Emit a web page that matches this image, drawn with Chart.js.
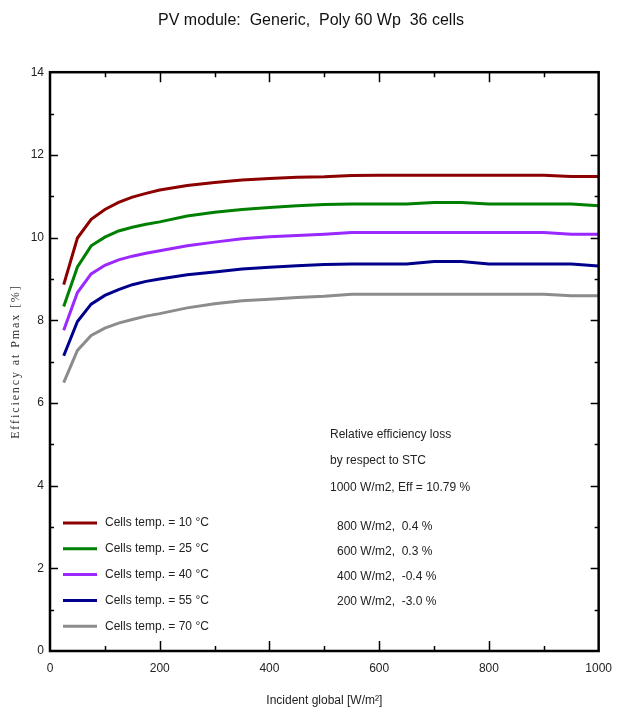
<!DOCTYPE html>
<html>
<head>
<meta charset="utf-8">
<script src="https://cdn.jsdelivr.net/npm/chart.js@4/dist/chart.umd.min.js"></script>
<style>
  html, body { margin: 0; padding: 0; background: #fff; }
  #wrap { width: 622px; height: 708px; }
</style>
</head>
<body>
<div id="wrap"><canvas id="myChart" width="622" height="708"></canvas></div>
<script>
// irradiance (W/m2) and efficiency at Pmax (%) per cell temperature
const irradiance = [25, 50, 75, 100, 125, 150, 175, 200, 250, 300, 350, 400, 450, 500,
    550, 600, 650, 700, 750, 800, 850, 900, 950, 1000];
const eff10 = [8.86, 9.99, 10.44, 10.68, 10.85, 10.98, 11.07, 11.15, 11.26, 11.33, 11.39, 11.43, 11.46, 11.47,
    11.50, 11.51, 11.51, 11.51, 11.51, 11.51, 11.51, 11.51, 11.48, 11.48];
const eff25 = [8.33, 9.29, 9.80, 10.01, 10.16, 10.25, 10.32, 10.38, 10.52, 10.61, 10.68, 10.73, 10.77, 10.80,
    10.81, 10.81, 10.81, 10.85, 10.85, 10.81, 10.81, 10.81, 10.81, 10.77];
const eff40 = [7.76, 8.67, 9.12, 9.33, 9.46, 9.55, 9.62, 9.68, 9.80, 9.89, 9.97, 10.02, 10.05, 10.08,
    10.12, 10.12, 10.12, 10.12, 10.12, 10.12, 10.12, 10.12, 10.08, 10.08];
const eff55 = [7.14, 7.97, 8.39, 8.60, 8.74, 8.86, 8.94, 9.00, 9.10, 9.17, 9.24, 9.28, 9.32, 9.35,
    9.36, 9.36, 9.36, 9.42, 9.42, 9.36, 9.36, 9.36, 9.36, 9.31];
const eff70 = [6.49, 7.27, 7.63, 7.81, 7.93, 8.02, 8.10, 8.16, 8.30, 8.40, 8.47, 8.51, 8.55, 8.58,
    8.63, 8.63, 8.63, 8.63, 8.63, 8.63, 8.63, 8.63, 8.59, 8.59];
const seriesLabels = ['Cells temp. = 10 °C', 'Cells temp. = 25 °C', 'Cells temp. = 40 °C',
    'Cells temp. = 55 °C', 'Cells temp. = 70 °C'];
const seriesColors = ['rgb(140, 0, 0)', 'rgb(0, 128, 0)', 'rgb(155, 40, 255)',
    'rgb(0, 0, 140)', 'rgb(140, 140, 140)'];
const noteHeader = ['Relative efficiency loss', 'by respect to STC', '1000 W/m2, Eff = 10.79 %'];
const noteLines = ['800 W/m2,  0.4 %', '600 W/m2,  0.3 %', '400 W/m2,  -0.4 %', '200 W/m2,  -3.0 %'];
const yTitle = 'Efficiency at Pmax [%]';

const sans = "'Liberation Sans', Arial, sans-serif";

function toPoints(values) {
    return irradiance.map(function (x, i) { return { x: x, y: values[i] }; });
}

const allSeries = [eff10, eff25, eff40, eff55, eff70];

// frame, inner ticks, legend and notes drawn inside the plot
const framePlugin = {
    id: 'frame',
    afterDraw: function (chart) {
        const ctx = chart.ctx;
        const a = chart.chartArea;
        const xs = chart.scales.x;
        const ys = chart.scales.y;
        ctx.save();
        ctx.strokeStyle = '#000';
        ctx.lineWidth = 2.5;
        ctx.strokeRect(a.left, a.top, a.right - a.left, a.bottom - a.top);
        ctx.lineWidth = 1.5;
        ctx.beginPath();
        for (let v = xs.min + 100; v < xs.max; v += 100) {
            const px = Math.round(xs.getPixelForValue(v)) + 0.5;
            const len = v % 200 === 0 ? 10 : 5;
            ctx.moveTo(px, a.bottom); ctx.lineTo(px, a.bottom - len);
            ctx.moveTo(px, a.top); ctx.lineTo(px, a.top + len);
        }
        for (let v = ys.min + 1; v < ys.max; v += 1) {
            const py = Math.round(ys.getPixelForValue(v)) + 0.5;
            const len = v % 2 === 0 ? 8 : 4;
            ctx.moveTo(a.left, py); ctx.lineTo(a.left + len, py);
            ctx.moveTo(a.right, py); ctx.lineTo(a.right - len, py);
        }
        ctx.stroke();

        // legend
        ctx.font = '12px ' + sans;
        ctx.textBaseline = 'middle';
        ctx.textAlign = 'left';
        chart.data.datasets.forEach(function (ds, i) {
            const y = a.bottom - 128 + i * 25.8;
            ctx.strokeStyle = ds.borderColor;
            ctx.lineWidth = 3;
            ctx.beginPath();
            ctx.moveTo(a.left + 13, y);
            ctx.lineTo(a.left + 47, y);
            ctx.stroke();
            ctx.fillStyle = '#222';
            ctx.fillText(ds.label, a.left + 55, y);
        });

        // notes
        noteHeader.forEach(function (t, i) {
            ctx.fillText(t, a.left + 280, a.top + 362 + i * 26.5);
        });
        noteLines.forEach(function (t, i) {
            ctx.fillText(t, a.left + 287, a.top + 454 + i * 25.3);
        });

        // y axis title, stretched serif
        ctx.translate(16, (a.top + a.bottom) / 2);
        ctx.rotate(-Math.PI / 2);
        ctx.font = '12px "Liberation Serif", serif';
        ctx.letterSpacing = '1.9px';
        ctx.textAlign = 'center';
        ctx.fillStyle = '#333';
        ctx.fillText(yTitle, 0, 0);
        ctx.restore();
    }
};

const config = {
    type: 'line',
    data: {
        datasets: allSeries.map(function (vals, i) {
            return {
                label: seriesLabels[i],
                data: toPoints(vals),
                borderColor: seriesColors[i],
                backgroundColor: seriesColors[i],
                borderWidth: 3,
                pointRadius: 0,
                tension: 0
            };
        })
    },
    options: {
        responsive: false,
        animation: false,
        layout: { padding: { top: 0, right: 0, left: 0, bottom: 0 } },
        plugins: {
            legend: { display: false },
            tooltip: { enabled: false },
            title: {
                display: true,
                text: 'PV module:  Generic,  Poly 60 Wp  36 cells',
                color: '#111',
                font: { family: sans, size: 16, weight: 'normal' },
                padding: { top: 11, bottom: 42 }
            }
        },
        scales: {
            x: {
                type: 'linear',
                min: 0,
                max: 1000,
                grid: { display: false, drawTicks: false },
                border: { display: false },
                ticks: {
                    stepSize: 200,
                    padding: 10,
                    color: '#222',
                    maxRotation: 0,
                    font: { family: sans, size: 12 },
                    callback: function (v) { return String(v); }
                },
                title: {
                    display: true,
                    text: 'Incident global [W/m²]',
                    color: '#222',
                    font: { family: sans, size: 12 },
                    padding: { top: 6, bottom: 0 }
                },
                afterFit: function (scale) { scale.height = 57; }
            },
            y: {
                min: 0,
                max: 14,
                grid: { display: false, drawTicks: false },
                border: { display: false },
                ticks: {
                    stepSize: 2,
                    padding: 6,
                    color: '#222',
                    font: { family: sans, size: 12 }
                },
                afterFit: function (scale) { scale.width = 50; }
            }
        }
    },
    plugins: [framePlugin]
};

const myChart = new Chart(document.getElementById('myChart'), config);
</script>
</body>
</html>
